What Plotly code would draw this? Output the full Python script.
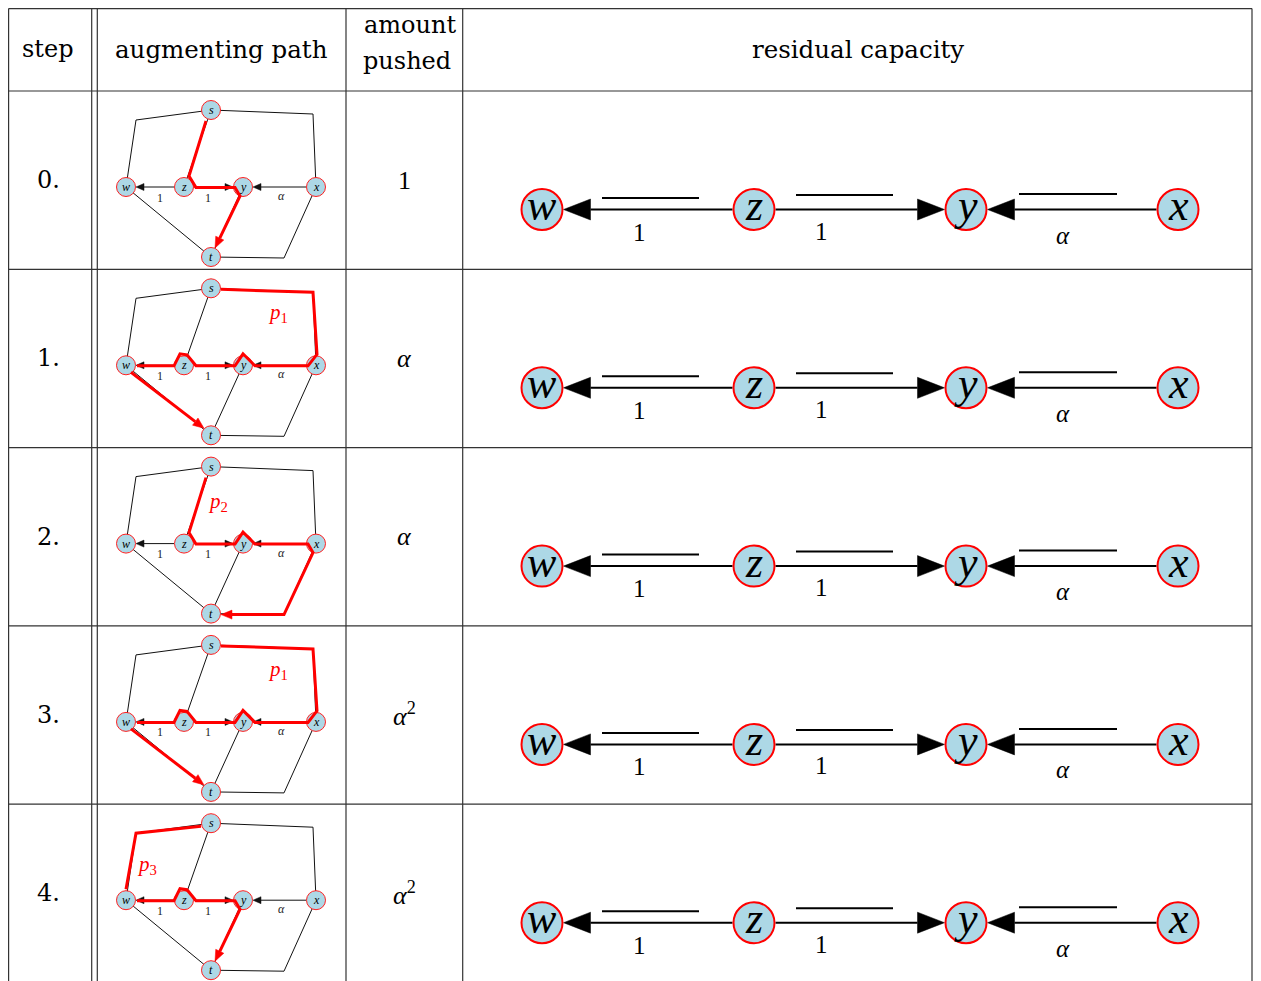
import math
import plotly.graph_objects as go

# ---------------- data ----------------
headers = ["step", "augmenting path", "amount", "pushed", "residual capacity"]
steps = ["0.", "1.", "2.", "3.", "4."]
amounts = ["1", "<i>α</i>", "<i>α</i>", "<i>α</i><sup>2</sup>", "<i>α</i><sup>2</sup>"]
path_labels = ["", "1", "2", "1", "3"]

graph_nodes = ["s", "w", "z", "y", "x", "t"]
graph_plain_edges = [["s", "c_sw", "w"], ["s", "c_sx", "x"], ["s", "z"], ["w", "t"], ["y", "t"], ["x", "c_xt", "t"]]
graph_arc_edges = [("z", "w"), ("z", "y"), ("x", "y")]
arc_labels = ["1", "1", "α"]

# augmenting paths, as lists of polylines of waypoints (last polyline ends with an arrow)
aug_paths = [
    [["S_bot", "Z_t", "Z_r", "Y_l", "Y_bl", "T_top"]],
    [["S_right", "c_sx", "X_t", "X_l", "Y_r", "Y_pk", "Y_l", "Z_r", "Z_pk2", "Z_pk", "Z_l", "W_r"], ["W_br", "T_tl"]],
    [["S_bot", "Z_t", "Z_r", "Y_l", "Y_pk", "Y_r", "X_l", "X_b", "c_xt", "T_r"]],
    [["S_right", "c_sx", "X_t", "X_l", "Y_r", "Y_pk", "Y_l", "Z_r", "Z_pk2", "Z_pk", "Z_l", "W_r"], ["W_br", "T_tl"]],
    [["S_left", "c_sw", "W_t"], ["W_r", "Z_l", "Z_pk", "Z_pk2", "Z_r", "Y_l", "Y_bl", "T_top"]],
]

residual_nodes = ["w", "z", "y", "x"]
residual_edges = [("z", "w"), ("z", "y"), ("x", "y")]
residual_labels = ["1", "1", "α"]

# ---------------- layout geometry ----------------
WIN_W, WIN_H = 1261, 981
OFF = 8  # page body margin
W, H = WIN_W - OFF, WIN_H - OFF
ROW = 178.3
row_tops = [91 + i * ROW for i in range(5)]

P = {  # small graph, row-0 frame
    "s": (211, 110), "w": (126, 187), "z": (184, 187), "y": (243, 187), "x": (316, 187), "t": (211, 257),
    "c_sw": (136, 120), "c_sx": (313, 114), "c_xt": (284, 258),
    "S_bot": (206, 121), "S_left": (201, 113), "S_right": (221, 111),
    "Z_t": (189, 176), "Z_r": (196, 187.5), "Z_l": (174, 187.5), "Z_pk": (180, 175.5), "Z_pk2": (187, 176.5),
    "Y_l": (235, 187.5), "Y_pk": (243, 175.5), "Y_r": (255, 187.5), "Y_bl": (240, 196),
    "X_l": (308, 187.5), "X_t": (317, 176), "X_b": (313, 196),
    "W_r": (137, 187.5), "W_t": (126, 176), "W_br": (131, 194),
    "T_top": (215, 248), "T_tl": (204, 250), "T_r": (221, 258),
}
label_pos = [None, (278, 135), (218, 145), (278, 135), (147, 152)]
small_lab_pos = [(160, 197.5), (208, 197.5), (281, 196)]
R_SMALL = 10

BIG_Y = 209.5
BIG_X = {"w": 542, "z": 754, "y": 966, "x": 1178}
R_BIG = 21.5
bars = [(602, 699, 198), (796, 893, 195), (1019, 1117, 194)]
big_lab_pos = [(639, 232), (821, 231), (1063, 235)]

SERIF = "DejaVu Serif"
MATH = "Liberation Serif"
fig = go.Figure()
ann = []
shapes = []


def line_shape(x0, y0, x1, y1, color="#222", width=1):
    shapes.append(dict(type="line", x0=x0, y0=y0, x1=x1, y1=y1, xref="x", yref="y",
                       line=dict(color=color, width=width), layer="below"))


# table grid
GRID = "#333"
RIGHT = 1252
for yy in [8.6] + row_tops:
    line_shape(8.6, yy, RIGHT, yy, GRID, 1.2)
for xx in [8.6, 91.7, 97.3, 346, 462.7, RIGHT]:
    line_shape(xx, 8.6, xx, WIN_H + 5, GRID, 1.2)


def polyline(pts, color, width):
    fig.add_trace(go.Scatter(x=[p[0] for p in pts], y=[p[1] for p in pts], mode="lines",
                             line=dict(color=color, width=width), hoverinfo="skip", showlegend=False))


def triangle(tip, frm, length, half, color):
    dx, dy = tip[0] - frm[0], tip[1] - frm[1]
    d = math.hypot(dx, dy)
    ux, uy = dx / d, dy / d
    bx, by = tip[0] - ux * length, tip[1] - uy * length
    px, py = -uy, ux
    xs = [tip[0], bx + px * half, bx - px * half, tip[0]]
    ys = [tip[1], by + py * half, by - py * half, tip[1]]
    fig.add_trace(go.Scatter(x=xs, y=ys, mode="lines", fill="toself", fillcolor=color,
                             line=dict(color=color, width=0.5), hoverinfo="skip", showlegend=False))
    return (bx, by)


def text(x, y, s, size, color="black", family=SERIF):
    ann.append(dict(x=x, y=y, xref="x", yref="y", text=s, showarrow=False,
                    font=dict(family=family, size=size, color=color), xanchor="center", yanchor="middle"))


# headers
text(48, 49, headers[0], 24)
text(221, 49, headers[1], 24.5)
text(410, 25, headers[2], 24)
text(407, 61, headers[3], 24)
text(858, 49, headers[4], 24.5)

for i in range(5):
    off = i * ROW

    def q(name):
        px, py = P[name]
        return (px, py + off)

    # step / amount
    text(48, 180 + off, steps[i], 24)
    text(404, 180 + off, amounts[i], 26, family=MATH)

    # small graph plain edges
    for e in graph_plain_edges:
        polyline([q(n) for n in e], "#111", 1)
    # arcs with arrowheads
    for (a, b) in graph_arc_edges:
        pa, pb = q(a), q(b)
        sgn = 1 if pb[0] > pa[0] else -1
        tip = (pb[0] - sgn * R_SMALL, pb[1])
        start = (pa[0] + sgn * R_SMALL, pa[1])
        base = triangle(tip, start, 8, 3.5, "#111")
        polyline([start, base], "#111", 1)
    # nodes
    fig.add_trace(go.Scatter(x=[q(n)[0] for n in graph_nodes], y=[q(n)[1] for n in graph_nodes],
                             mode="markers", marker=dict(size=19, color="#add8e6",
                                                         line=dict(color="#ff2020", width=1)),
                             hoverinfo="skip", showlegend=False))
    # augmenting path
    polys = aug_paths[i]
    for k, poly in enumerate(polys):
        pts = [q(n) for n in poly]
        if k == len(polys) - 1:
            base = triangle(pts[-1], pts[-2], 11, 4.5, "#ff0000")
            pts = pts[:-1] + [base]
        polyline(pts, "#ff0000", 3)
    for n in graph_nodes:
        qx, qy = q(n)
        text(qx, qy, "<i>%s</i>" % n, 12, family=MATH)
    for lab, (lx, ly) in zip(arc_labels, small_lab_pos):
        text(lx, ly + off, lab if lab != "α" else "<i>α</i>", 12, "#222", family=MATH)
    if path_labels[i]:
        lx, ly = label_pos[i]
        text(lx, ly + off, "<i>p</i><sub>%s</sub>" % path_labels[i], 21, "#ff0000", family=MATH)

    # residual capacity graph
    by = BIG_Y + off
    for (a, b) in residual_edges:
        xa, xb = BIG_X[a], BIG_X[b]
        sgn = 1 if xb > xa else -1
        tip = (xb - sgn * R_BIG, by)
        start = (xa + sgn * R_BIG, by)
        base = triangle(tip, start, 27, 10.5, "black")
        polyline([start, base], "black", 2)
    for (x0, x1, yb) in bars:
        polyline([(x0, yb + off), (x1, yb + off)], "black", 2)
    fig.add_trace(go.Scatter(x=[BIG_X[n] for n in residual_nodes], y=[by] * 4, mode="markers",
                             marker=dict(size=41, color="#add8e6", line=dict(color="#ff0000", width=2)),
                             hoverinfo="skip", showlegend=False))
    for n in residual_nodes:
        text(BIG_X[n], by - 4, "<i>%s</i>" % n, 44, family=MATH)
    for lab, (lx, ly) in zip(residual_labels, big_lab_pos):
        text(lx, ly + off, lab if lab != "α" else "<i>α</i>", 25, family=MATH)

fig.update_layout(
    width=W, height=H, margin=dict(l=0, r=0, t=0, b=0),
    paper_bgcolor="white", plot_bgcolor="white",
    xaxis=dict(range=[OFF, OFF + W], visible=False, fixedrange=True),
    yaxis=dict(range=[OFF + H, OFF], visible=False, fixedrange=True),
    shapes=shapes, annotations=ann, showlegend=False,
)
fig.write_html("out.html")
